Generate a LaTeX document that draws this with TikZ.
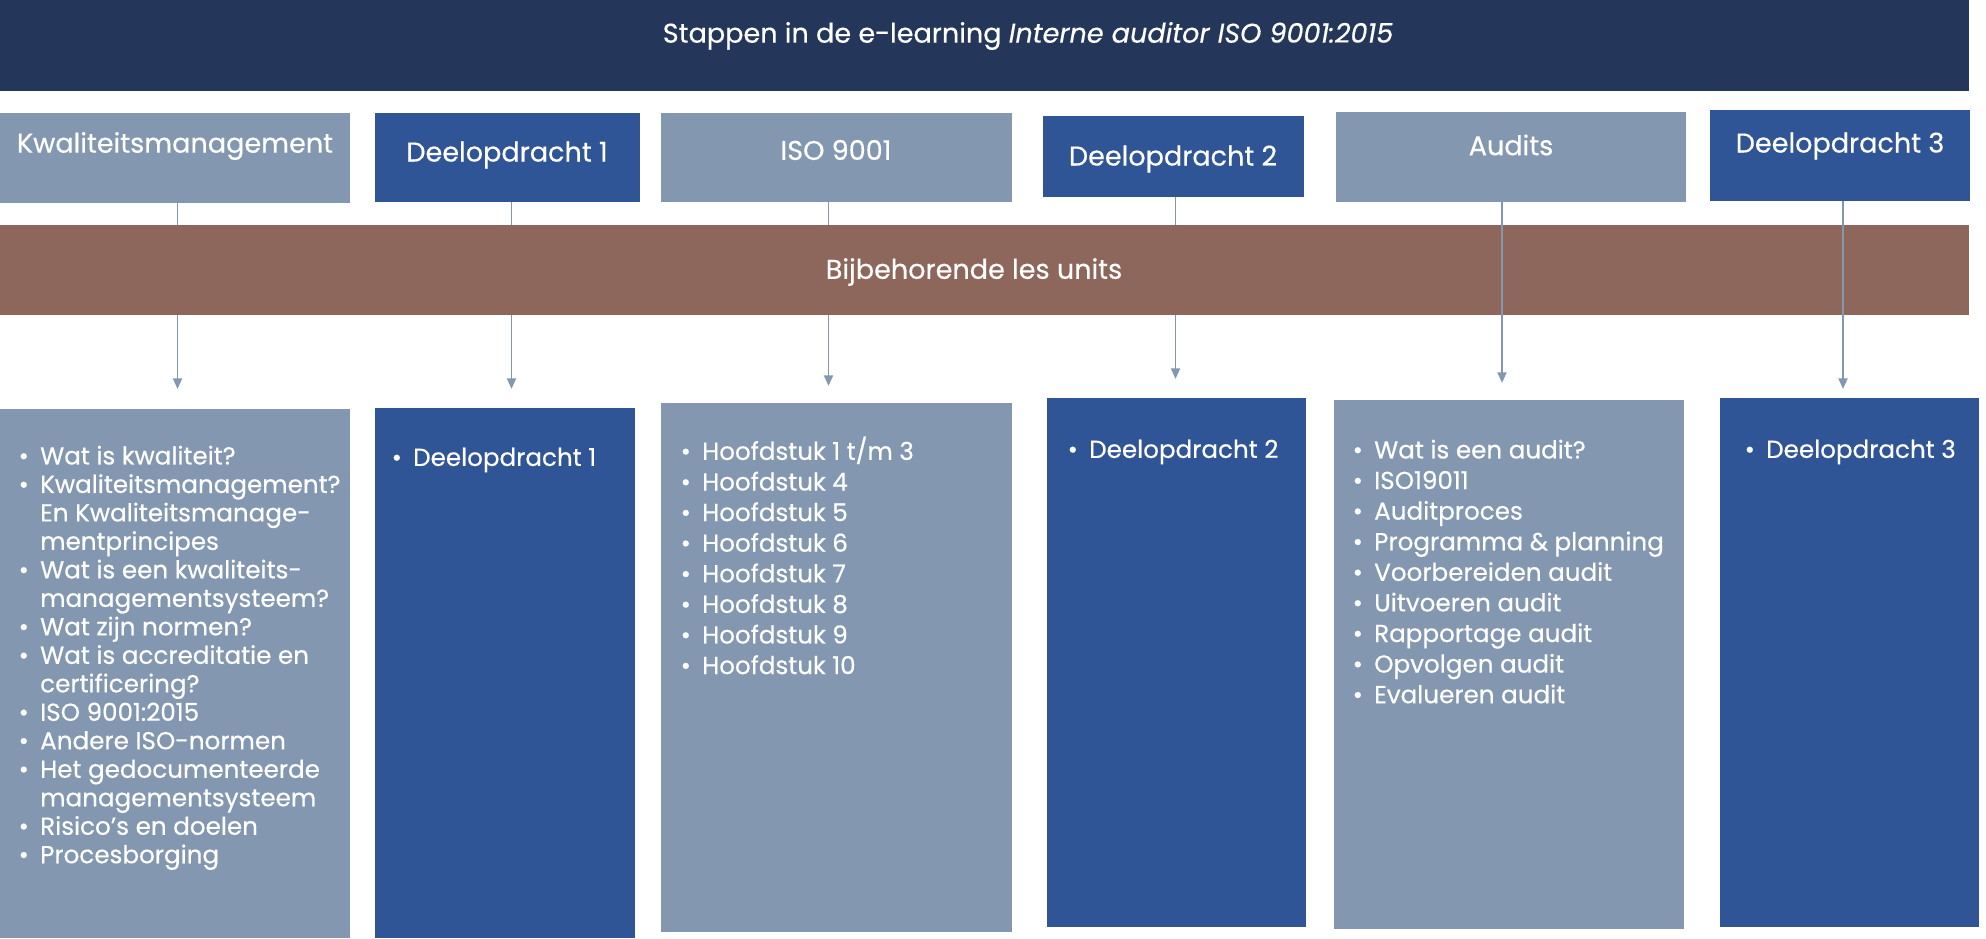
\documentclass[tikz,border=0pt]{standalone}
\usepackage{fontspec}
\setmainfont{Poppins}[FakeBold=0.4]
\usetikzlibrary{arrows.meta}

\definecolor{titelblauw}{HTML}{243659}
\definecolor{grijsblauw}{HTML}{8497B0}
\definecolor{donkerblauw}{HTML}{2F5597}
\definecolor{bruin}{HTML}{8E675C}

\newcommand{\punt}{\makebox[0.215cm][l]{\textbullet}}
\newcommand{\inspring}{\hspace*{0.215cm}}

\begin{document}
\begin{tikzpicture}[x=0.01cm, y=-0.01cm,
    blok/.style={rectangle, inner sep=0pt, outer sep=0pt},
    licht/.style={blok, fill=grijsblauw},
    donker/.style={blok, fill=donkerblauw},
    kop/.style={text=white, inner sep=0pt, font=\fontsize{7.7}{9}\selectfont},
    lijst/.style={text=white, anchor=north west, inner sep=0pt, align=left, font=\fontsize{7}{8.1}\selectfont},
    pijl/.style={draw=grijsblauw, line width=0.45pt, -{Triangle[length=3pt, width=2.6pt]}}]
    \useasboundingbox (0,0) rectangle (1986,938);

    % titelbalk
    \node[blok, fill=titelblauw, minimum width=19.68cm, minimum height=0.91cm] (titel) at (984,45.5) {};
    \node[kop] (titeltekst) at (1028,36) {Stappen in de e-learning \textit{Interne auditor ISO 9001:2015}};

    % stappen
    \node[licht, minimum width=3.5cm, minimum height=0.9cm] (kw) at (175,158) {};
    \node[donker, minimum width=2.65cm, minimum height=0.89cm] (d1) at (507.5,157.5) {};
    \node[licht, minimum width=3.51cm, minimum height=0.89cm] (iso) at (836.5,157.5) {};
    \node[donker, minimum width=2.61cm, minimum height=0.81cm] (d2) at (1173.5,156.5) {};
    \node[licht, minimum width=3.5cm, minimum height=0.9cm] (au) at (1511,157) {};
    \node[donker, minimum width=2.6cm, minimum height=0.91cm] (d3) at (1840,155.5) {};
    \node[kop] (kwtekst) at (175,146) {Kwaliteitsmanagement};
    \node[kop] (d1tekst) at (507,155) {Deelopdracht 1};
    \node[kop] (isotekst) at (836,150) {ISO 9001};
    \node[kop] (d2tekst) at (1173,159) {Deelopdracht 2};
    \node[kop] (autekst) at (1511,145) {Audits};
    \node[kop] (d3tekst) at (1840,146) {Deelopdracht 3};

    % units
    \node[licht, minimum width=3.5cm, minimum height=5.29cm] (kwl) at (175,673.5) {};
    \node[donker, minimum width=2.6cm, minimum height=5.3cm] (d1l) at (505,673) {};
    \node[licht, minimum width=3.51cm, minimum height=5.29cm] (isol) at (836.5,667.5) {};
    \node[donker, minimum width=2.59cm, minimum height=5.29cm] (d2l) at (1176.5,662.5) {};
    \node[licht, minimum width=3.5cm, minimum height=5.29cm] (aul) at (1509,664.5) {};
    \node[donker, minimum width=2.59cm, minimum height=5.29cm] (d3l) at (1849.5,662.5) {};

    \node[lijst] (kwlijst) at (18,445) {\punt Wat is kwaliteit?\\
        \punt Kwaliteitsmanagement?\\
        \inspring En Kwaliteitsmanage-\\
        \inspring mentprincipes\\
        \punt Wat is een kwaliteits-\\
        \inspring managementsysteem?\\
        \punt Wat zijn normen?\\
        \punt Wat is accreditatie en\\
        \inspring certificering?\\
        \punt ISO 9001:2015\\
        \punt Andere ISO-normen\\
        \punt Het gedocumenteerde\\
        \inspring managementsysteem\\
        \punt Risico’s en doelen\\
        \punt Procesborging};
    \node[lijst] (d1lijst) at (391,447) {\punt Deelopdracht 1};
    \node[lijst, font=\fontsize{7}{8.7}\selectfont] (isolijst) at (680,436) {\punt Hoofdstuk 1 t/m 3\\
        \punt Hoofdstuk 4\\
        \punt Hoofdstuk 5\\
        \punt Hoofdstuk 6\\
        \punt Hoofdstuk 7\\
        \punt Hoofdstuk 8\\
        \punt Hoofdstuk 9\\
        \punt Hoofdstuk 10};
    \node[lijst] (d2lijst) at (1067,439) {\punt Deelopdracht 2};
    \node[lijst, font=\fontsize{7}{8.7}\selectfont] (aulijst) at (1352,439) {\punt Wat is een audit?\\
        \punt ISO19011\\
        \punt Auditproces\\
        \punt Programma \& planning\\
        \punt Voorbereiden audit\\
        \punt Uitvoeren audit\\
        \punt Rapportage audit\\
        \punt Opvolgen audit\\
        \punt Evalueren audit};
    \node[lijst] (d3lijst) at (1744,439) {\punt Deelopdracht 3};

    % pijlen achter de balk
    \foreach \van/\naar/\dx/\kort in {kw/kwl/0.025cm/2mm, d1/d1l/0.04cm/1.9mm, iso/isol/-0.08cm/1.7mm, d2/d2l/0.02cm/1.9mm}
        \draw[pijl, shorten >=\kort] ([xshift=\dx]\van.south) -- ([xshift=\dx]\van.south |- \naar.north);

    \node[blok, fill=bruin, minimum width=19.68cm, minimum height=0.9cm] (band) at (984,270) {};
    \node[kop] (bandtekst) at (974,272) {Bijbehorende les units};

    % pijlen over de balk
    \foreach \van/\naar/\dx/\kort in {au/aul/-0.09cm/1.7mm, d3/d3l/0.03cm/0.9mm}
        \draw[pijl, shorten >=\kort] ([xshift=\dx]\van.south) -- ([xshift=\dx]\van.south |- \naar.north);
\end{tikzpicture}
\end{document}
